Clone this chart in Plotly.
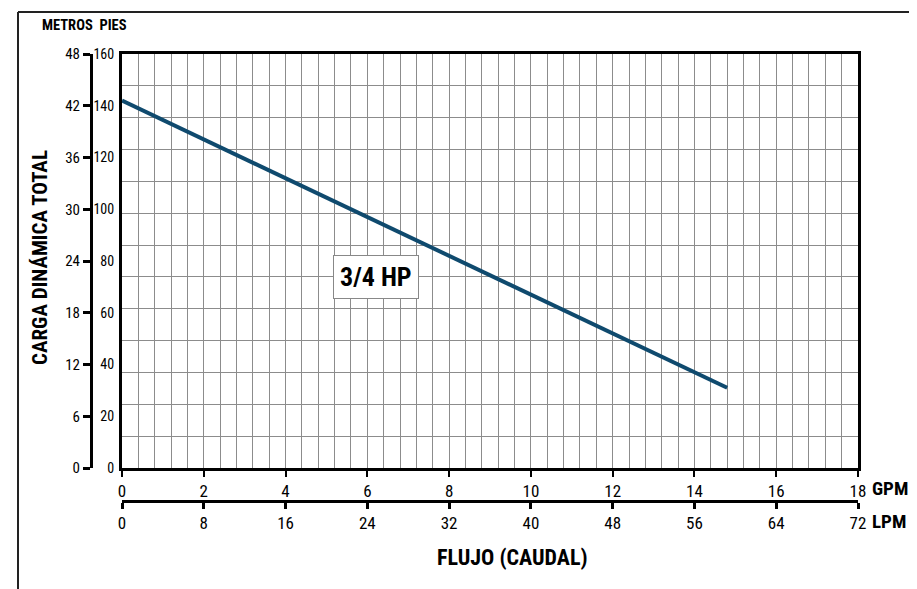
import plotly.graph_objects as go

# ---- data ----
gpm_flow = [0, 14.8]
head_ft = [142, 31]
gpm_ticks = [0, 2, 4, 6, 8, 10, 12, 14, 16, 18]
lpm_ticks = [0, 8, 16, 24, 32, 40, 48, 56, 64, 72]
m_ticks = [0, 6, 12, 18, 24, 30, 36, 42, 48]
ft_ticks = [0, 20, 40, 60, 80, 100, 120, 140, 160]
curve_label = "3/4 HP"

FONT = "Noto Sans ExtraCondensed, Noto Sans Condensed, Roboto Condensed, DejaVu Sans Condensed, sans-serif"
OFF = 8  # page body margin
W, H = 917 - OFF, 589 - OFF
L, R, T, B = 32, 59, 46, 30
PW, PH = W - L - R, H - T - B


def px(sx):
    return (sx - OFF - L) / PW


def py(sy):
    return (H - B - (sy - OFF)) / PH


GRID = "#8c8c8c"

fig = go.Figure()
fig.add_trace(go.Scatter(x=gpm_flow, y=head_ft, mode="lines",
                         line=dict(color="#0f4a6e", width=4),
                         xaxis="x", yaxis="y", showlegend=False, hoverinfo="skip"))
fig.add_trace(go.Scatter(x=[None], y=[None], xaxis="x2", yaxis="y", showlegend=False))
fig.add_trace(go.Scatter(x=[None], y=[None], xaxis="x", yaxis="y2", showlegend=False))

fig.update_layout(
    width=W, height=H,
    margin=dict(l=L, r=R, t=T, b=B, autoexpand=False),
    paper_bgcolor="white", plot_bgcolor="white",
    font=dict(family=FONT, color="black", size=16),
    xaxis=dict(
        domain=[px(122), 1], range=[0, 18], anchor="y",
        tickmode="array", tickvals=gpm_ticks,
        ticks="outside", ticklen=6, tickwidth=2, tickcolor="black",
        showline=True, linewidth=3, linecolor="black", mirror=True,
        showgrid=True, gridcolor=GRID, gridwidth=1,
        minor=dict(dtick=0.4, tick0=0, showgrid=True, gridcolor=GRID, gridwidth=1, ticks=""),
        tickfont=dict(size=17), zeroline=False, automargin=False,
    ),
    xaxis2=dict(
        range=[0, 72], anchor="free", overlaying="x", side="bottom",
        position=py(501),
        tickmode="array", tickvals=lpm_ticks,
        ticks="outside", ticklen=6, tickwidth=3, tickcolor="black",
        showline=True, linewidth=3, linecolor="black",
        showgrid=False, zeroline=False, tickfont=dict(size=17), automargin=False,
    ),
    yaxis=dict(
        domain=[py(468), 1], range=[0, 160], anchor="x",
        tickmode="array", tickvals=ft_ticks,
        ticks="", showline=True, linewidth=3, linecolor="black", mirror=True,
        showgrid=False, zeroline=False,
        minor=dict(tickmode="linear", tick0=0, dtick=160 / 13, showgrid=True,
                   gridcolor=GRID, gridwidth=1, ticks=""),
        tickfont=dict(size=14), ticklabelstandoff=2, automargin=False,
    ),
    yaxis2=dict(
        range=[0, 48], anchor="free", overlaying="y", side="left",
        position=px(91),
        tickmode="array", tickvals=m_ticks,
        ticks="outside", ticklen=7, tickwidth=3, tickcolor="black",
        showline=True, linewidth=3, linecolor="black",
        showgrid=False, zeroline=False, tickfont=dict(size=15), automargin=False,
    ),
)

anns = [
    dict(text="<b>METROS  PIES</b>", x=px(40), y=py(26), xanchor="left", yanchor="middle", font=dict(size=14.5)),
    dict(text="<b>GPM</b>", x=px(870), y=py(488), xanchor="left", yanchor="middle", font=dict(size=19)),
    dict(text="<b>LPM</b>", x=px(870), y=py(521), xanchor="left", yanchor="middle", font=dict(size=19)),
    dict(text="<b>FLUJO (CAUDAL)</b>", x=px(512), y=py(557), xanchor="center", yanchor="middle", font=dict(size=22)),
    dict(text="<b>CARGA DINÁMICA TOTAL</b>", x=px(40), y=py(258), xanchor="center", yanchor="middle",
         textangle=-90, font=dict(size=21)),
]
for a in anns:
    a.update(xref="paper", yref="paper", showarrow=False)
    fig.add_annotation(**a)

fig.add_annotation(text="<b>" + curve_label + "</b>", x=6.2, y=74, xref="x", yref="y",
                   showarrow=False, font=dict(size=26), bgcolor="white",
                   bordercolor="#888888", borderwidth=1, borderpad=6)

# outer frame (left, top, right edges)
frame = dict(color="#222222", width=2)
fig.add_shape(type="line", xref="paper", yref="paper", x0=px(18), x1=px(18), y0=py(589), y1=py(12), line=frame)
fig.add_shape(type="line", xref="paper", yref="paper", x0=px(18), x1=px(910), y0=py(12), y1=py(12), line=frame)
fig.add_shape(type="line", xref="paper", yref="paper", x0=px(910), x1=px(910), y0=py(589), y1=py(12), line=frame)

fig.write_html("out.html")
